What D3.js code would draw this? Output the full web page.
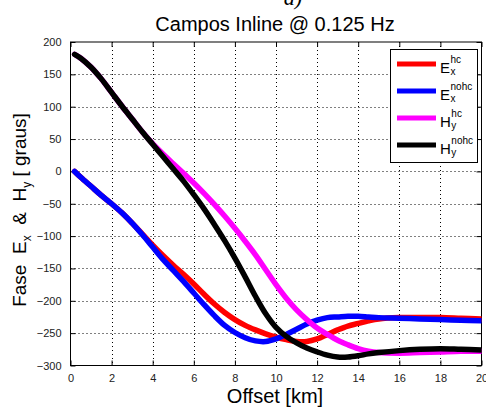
<!DOCTYPE html>
<html><head><meta charset="utf-8">
<script src="https://cdn.jsdelivr.net/npm/d3@7"></script>
<style>
html,body{margin:0;padding:0;background:#fff;}
svg{display:block;font-family:"Liberation Sans",Arial,sans-serif;}
text{white-space:pre;}
</style></head>
<body>
<svg id="c" width="486" height="407"></svg>
<script>
const offsets = [0.2,0.5,1,1.5,2,2.5,3,3.5,4,4.5,5,5.5,6,6.5,7,7.5,8,8.5,9,9.5,10,10.5,11,11.5,12,12.5,13,13.5,14,14.5,15,16,17,18,19,20];
const exHc   = [0,-9,-23,-37,-50,-64,-80,-97,-114,-130,-145,-159,-174,-190,-205,-218,-229,-238,-245,-251,-256,-260,-263,-263,-259,-252,-245,-239,-235,-231,-228,-226,-226,-226,-227,-228];
const exNohc = [0,-9,-23,-37,-50,-64,-80,-98,-117,-136,-153,-170,-188,-206,-223,-238,-249,-257,-262,-263,-259,-252,-244,-236,-230,-226,-225,-224,-224,-225,-226,-227,-228,-229,-230,-231];
const hyHc   = [181,175,161,143,122,101,81,61,43,27,12,-3,-18,-34,-51,-69,-88,-108,-129,-152,-175,-196,-214,-229,-242,-252,-261,-268,-274,-278,-280,-281,-280,-279,-278,-278];
const hyNohc = [181,175,161,143,122,101,81,61,42,23,4,-15,-36,-58,-82,-107,-134,-163,-193,-220,-241,-255,-265,-273,-279,-284,-287,-287,-285,-282,-280,-277,-275,-274,-275,-276];
const xTicks = [0,2,4,6,8,10,12,14,16,18,20];
const yTicks = [200,150,100,50,0,-50,-100,-150,-200,-250,-300];
const seriesNames = ["E","E","H","H"];
const seriesSup = ["hc","nohc","hc","nohc"];
const seriesSub = ["x","x","y","y"];
const seriesColors = ["#ff0000","#0000ff","#ff00ff","#000000"];
const seriesData = [exHc, exNohc, hyHc, hyNohc];

const L=70.5, R=481.5, T=42, B=365.5;
const svg = d3.select("#c");
const x = d3.scaleLinear().domain([0,20]).range([L,R]);
const y = d3.scaleLinear().domain([-300,200]).range([B,T]);

// grid
const g = svg.append("g");
g.selectAll(".gx").data(xTicks.slice(1,-1)).enter().append("line")
  .attr("x1",d=>Math.round(x(d))+0.5).attr("x2",d=>Math.round(x(d))+0.5).attr("y1",T).attr("y2",B)
  .attr("stroke","#000").attr("stroke-width",1).attr("stroke-dasharray","1,3");
g.selectAll(".gy").data(yTicks.slice(1,-1)).enter().append("line")
  .attr("y1",d=>Math.round(y(d))+0.5).attr("y2",d=>Math.round(y(d))+0.5).attr("x1",L).attr("x2",R)
  .attr("stroke","#000").attr("stroke-width",1).attr("stroke-dasharray","1,3");

// axes
const xAxisB = d3.axisBottom(x).tickValues(xTicks).tickSize(-5).tickPadding(9).tickFormat(d3.format("d"));
const xAxisT = d3.axisTop(x).tickValues(xTicks).tickSize(-5).tickFormat("");
const yAxisL = d3.axisLeft(y).tickValues(yTicks).tickSize(-5).tickPadding(9).tickFormat(d3.format("d"));
const yAxisR = d3.axisRight(y).tickValues(yTicks).tickSize(-5).tickFormat("");
function style(sel){
  sel.select(".domain").remove();
  sel.selectAll("line").attr("stroke","#000");
  sel.selectAll("text").attr("fill","#222").style("font-size","11px").style("font-family","'Liberation Sans',Arial,sans-serif");
}
svg.append("g").attr("transform",`translate(0,${B})`).call(xAxisB).call(style);
svg.append("g").attr("transform",`translate(0,${T})`).call(xAxisT).call(style);
svg.append("g").attr("transform",`translate(${L},0)`).call(yAxisL).call(style);
svg.append("g").attr("transform",`translate(${R},0)`).call(yAxisR).call(style);
svg.append("rect").attr("x",L).attr("y",T).attr("width",R-L).attr("height",B-T)
  .attr("fill","none").attr("stroke","#000").attr("stroke-width",1);

// lines
svg.append("clipPath").attr("id","clp").append("rect").attr("x",L).attr("y",T).attr("width",R-L).attr("height",B-T);
const line = d3.line().x((d,i)=>x(offsets[i])).y(d=>y(d)).curve(d3.curveCatmullRom.alpha(0.5));
seriesData.forEach((s,k)=>{
  svg.append("path").attr("d",line(s)).attr("fill","none").attr("stroke",seriesColors[k])
    .attr("stroke-width",5.5).attr("stroke-linejoin","round").attr("stroke-linecap","round")
    .attr("clip-path","url(#clp)");
});

// legend
const lg = svg.append("g");
lg.append("rect").attr("x",390.5).attr("y",49.5).attr("width",87).attr("height",113)
  .attr("fill","#fff").attr("stroke","#000").attr("stroke-width",1);
const ly = [64,91,118,145];
seriesData.forEach((s,k)=>{
  lg.append("line").attr("x1",397).attr("x2",436).attr("y1",ly[k]).attr("y2",ly[k])
    .attr("stroke",seriesColors[k]).attr("stroke-width",5);
  const t = lg.append("text").attr("x",440).attr("y",ly[k]+9).style("font-size","15px").attr("fill","#000").text(seriesNames[k]);
  const w = t.node().getComputedTextLength();
  lg.append("text").attr("x",440+w+0.5).attr("y",ly[k]-1).style("font-size","10px").attr("fill","#000").text(seriesSup[k]);
  lg.append("text").attr("x",440+w+0.5).attr("y",ly[k]+11).style("font-size","10px").attr("fill","#000").text(seriesSub[k]);
});

// titles
svg.append("text").attr("x",293).attr("y",5).attr("text-anchor","middle")
  .style("font-family","'Liberation Serif','Times New Roman',serif").style("font-style","italic").style("font-size","22px").text("a)");
svg.append("text").attr("x",275).attr("y",31).attr("text-anchor","middle").style("font-size","20px").text("Campos Inline @ 0.125 Hz");
svg.append("text").attr("x",275).attr("y",403).attr("text-anchor","middle").style("font-size","20px").text("Offset [km]");
const yl = svg.append("text").attr("transform","translate(26,210) rotate(-90)").attr("text-anchor","middle").style("font-size","19px");
yl.append("tspan").text("Fase  E");
yl.append("tspan").attr("dy",5).style("font-size","12px").text("x");
yl.append("tspan").attr("dy",-5).text("  &  H");
yl.append("tspan").attr("dy",5).style("font-size","12px").text("y");
yl.append("tspan").attr("dy",-5).text(" [ graus]");
</script>
</body></html>
